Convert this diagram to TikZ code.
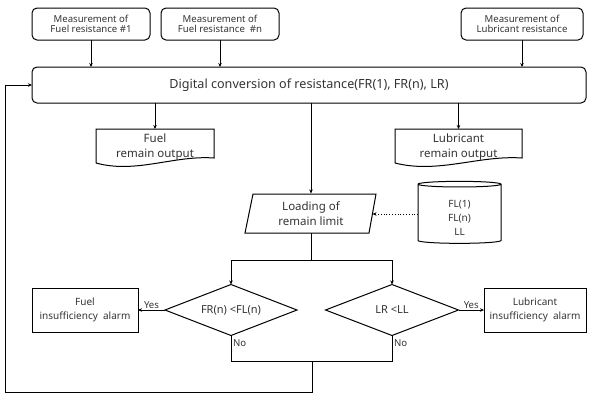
\documentclass[tikz,border=0pt]{standalone}
\usepackage{fontspec}
\setmainfont{Noto Sans}
\usetikzlibrary{shapes.geometric,arrows.meta,calc}
\begin{document}
\begin{tikzpicture}[x=1pt,y=-1pt,
  every node/.style={inner sep=0pt,outer sep=0pt,align=center,text=black!80},
  rbox/.style={draw,rounded corners=5pt,line width=1pt,minimum height=32pt},
  abox/.style={draw,line width=1pt,minimum height=44pt},
  dia/.style={draw,diamond,aspect=2.6,line width=1pt},
  ln/.style={line width=0.8pt},
  arr/.style={ln,-{Stealth[length=4pt,width=3.5pt]}},
  sm/.style={font=\fontsize{9.6}{10.5}\selectfont},
  al/.style={font=\fontsize{10}{14}\selectfont},
  md/.style={font=\fontsize{11.5}{15}\selectfont},
]
\useasboundingbox (0,0) rectangle (589,394);
% top boxes
\node[rbox,sm,minimum width=118pt] (m1) at (91,24) {Measurement of\\Fuel resistance \#1};
\node[rbox,sm,minimum width=118pt] (m2) at (220,24) {Measurement of\\Fuel resistance~~\#n};
\node[rbox,sm,minimum width=122pt] (m3) at (522,24) {Measurement of\\Lubricant resistance};
% conversion
\node[rbox,minimum width=554pt,minimum height=36pt,font=\fontsize{12.6}{14}\selectfont] (conv) at (309,85) {Digital conversion of resistance(FR(1), FR(n), LR)};
% document outputs
\node[md,minimum width=118pt,minimum height=36pt] (fout) at (155,147) {Fuel\\remain output};
\draw[line width=1pt] ($(fout.south west)+(0,-2)$) -- (fout.north west) -- (fout.north east) -- ($(fout.south east)+(0,-7)$)
  .. controls ($(fout.south east)+(-40,-10)$) and ($(fout.south west)+(40,9)$) .. ($(fout.south west)+(0,-2)$);
\node[md,minimum width=127pt,minimum height=36pt] (lout) at (458.5,147) {Lubricant\\remain output};
\draw[line width=1pt] ($(lout.south west)+(0,-2)$) -- (lout.north west) -- (lout.north east) -- ($(lout.south east)+(0,-7)$)
  .. controls ($(lout.south east)+(-43,-10)$) and ($(lout.south west)+(43,9)$) .. ($(lout.south west)+(0,-2)$);
% loading parallelogram
\node[md,minimum width=116pt,minimum height=39pt] (load) at (311,213.5) {Loading of\\remain limit};
\draw[line width=1pt] (253,194) -- (376,194) -- (369,233) -- (245,233) -- cycle;
\coordinate (loadE) at (372.5,214);
% database
\node[draw,cylinder,shape border rotate=90,aspect=0.25,line width=1pt,minimum width=83pt,minimum height=62pt,
  font=\fontsize{10}{14}\selectfont] (db) at (459.5,214) {\\FL(1)\\FL(n)\\LL};
% diamonds
\node[dia,minimum width=132pt,minimum height=51pt,font=\fontsize{11}{12}\selectfont] (d1) at (231,310) {FR(n) <FL(n)};
\node[dia,minimum width=133pt,minimum height=51pt,font=\fontsize{11}{12}\selectfont] (d2) at (392,310) {LR <LL};
% alarms
\node[abox,al,minimum width=106pt] (fa) at (85,310) {Fuel\\insufficiency~~alarm};
\node[abox,al,minimum width=102pt] (la) at (535,310) {Lubricant\\insufficiency~~alarm};
% connectors
\draw[arr] (m1.south) -- (m1.south |- conv.north);
\draw[arr] (m2.south) -- (m2.south |- conv.north);
\draw[arr] (m3.south) -- (m3.south |- conv.north);
\draw[arr] (conv.south -| fout.north) -- (fout.north);
\draw[arr] (conv.south -| lout.north) -- (lout.north);
\draw[arr] (conv.south -| load.north) -- ($(load.north)+(0,-0.5)$);
\draw[ln,dotted,-{Stealth[length=4pt,width=3.5pt]}] (db.west |- loadE) -- (loadE);
\coordinate (split) at (311,260);
\draw[ln] (load.south) -- (split);
\draw[arr] (split) -| (d1.north);
\draw[arr] (split) -| (d2.north);
\draw[arr] (d1.west) -- node[above=1pt,sm,anchor=south]{Yes} (fa.east);
\draw[arr] (d2.east) -- node[above=1pt,sm,anchor=south]{Yes} (la.west);
\coordinate (merge) at (312,361);
\coordinate (bl) at (5,392);
\draw[ln] (d1.south) |- (merge);
\draw[ln] (d2.south) |- (merge);
\node[sm,anchor=north west] (no1) at ($(d1.south)+(2,4)$) {No};
\node[sm,anchor=north west] (no2) at ($(d2.south)+(2,4)$) {No};
\draw[arr] (merge) -- (merge |- bl) -- (bl) -- (bl |- conv.west) -- (conv.west);
\end{tikzpicture}
\end{document}
